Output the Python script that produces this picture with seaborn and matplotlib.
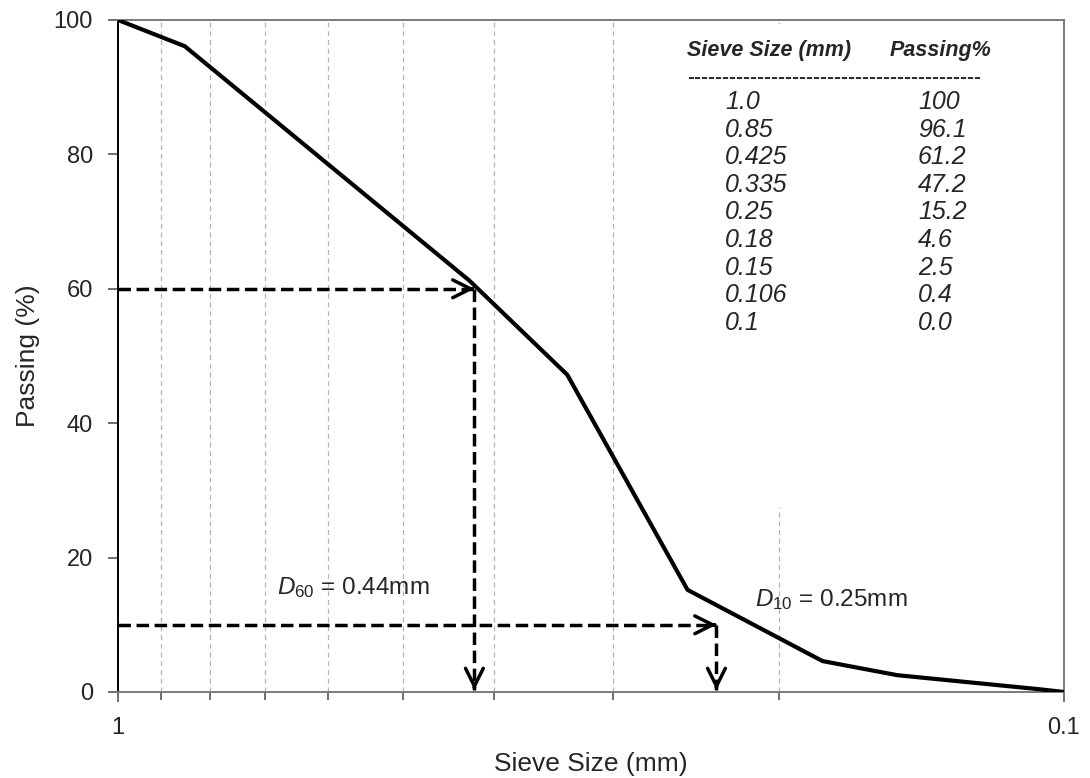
import numpy as np
import pandas as pd
import seaborn as sns
import matplotlib.pyplot as plt
from matplotlib.patches import Rectangle

# sieve analysis data
sieve_mm = [1.0, 0.85, 0.425, 0.335, 0.25, 0.18, 0.15, 0.106, 0.1]
passing = [100, 96.1, 61.2, 47.2, 15.2, 4.6, 2.5, 0.4, 0.0]
sieve_labels = ["1.0", "0.85", "0.425", "0.335", "0.25", "0.18", "0.15", "0.106", "0.1"]
passing_labels = ["100", "96.1", "61.2", "47.2", "15.2", "4.6", "2.5", "0.4", "0.0"]

# characteristic sizes
d60_x, d60_y = 0.42, 60
d10_x, d10_y = 0.233, 10
grid_ticks = [0.9, 0.8, 0.7, 0.6, 0.5, 0.4, 0.3, 0.2]
y_ticks = [0, 20, 40, 60, 80, 100]

sns.set_style("white")
plt.rcParams["font.family"] = ["Liberation Sans", "DejaVu Sans"]
plt.rcParams["mathtext.fontset"] = "custom"
plt.rcParams["mathtext.it"] = "Liberation Sans:italic"
plt.rcParams["mathtext.rm"] = "Liberation Sans"

df = pd.DataFrame({"sieve": sieve_mm, "passing": passing})

fig, ax = plt.subplots(figsize=(10.9, 7.78), dpi=100)
fig.subplots_adjust(left=118/1090, right=1064/1090, bottom=1-692/778, top=1-20/778)

sns.lineplot(data=df, x="sieve", y="passing", sort=False, color="black", lw=3, ax=ax, zorder=3)

ax.set_xscale("log")
ax.set_xlim(1, 0.1)
ax.set_ylim(0, 100)

ax.set_xticks([1, 0.1])
ax.set_xticklabels(["1", "0.1"])
ax.set_xticks(grid_ticks, minor=True)
ax.xaxis.set_minor_formatter(plt.NullFormatter())
ax.set_yticks(y_ticks)
ax.set_yticklabels([str(v) for v in y_ticks])

ax.tick_params(axis="x", which="major", direction="out", length=7, width=1.2, color="#555555",
               labelsize=17, pad=11, bottom=True)
ax.tick_params(axis="x", which="minor", direction="out", length=6, width=1.2, color="#555555", bottom=True)
ax.tick_params(axis="y", which="major", direction="out", length=7, width=1.2, color="#555555",
               labelsize=17, pad=11, left=True)

ax.set_axisbelow(True)
ax.grid(axis="x", which="minor", color="#b5b5b5", linestyle=(0, (4, 3)), lw=0.9)
ax.grid(axis="y", visible=False)
ax.grid(axis="x", which="major", visible=False)

for side in ["top", "right", "bottom"]:
    ax.spines[side].set_color("#7a7a7a")
    ax.spines[side].set_linewidth(1.4)
ax.spines["left"].set_color("black")
ax.spines["left"].set_linewidth(1.4)

ax.set_xlabel("Sieve Size (mm)", fontsize=19)
ax.set_ylabel("Passing (%)", fontsize=19)
ax.xaxis.set_label_coords(0.5, -0.09)
ax.yaxis.set_label_coords(-0.082, 0.5)

# D60 / D10 guide lines
dash = (0, (3.6, 1.6))
ax.plot([1, d60_x], [d60_y, d60_y], color="black", lw=2.5, linestyle=dash, zorder=2)
ax.plot([d60_x, d60_x], [d60_y, 0.3], color="black", lw=2.5, linestyle=dash, zorder=2)
ax.plot([1, d10_x], [d10_y, d10_y], color="black", lw=2.5, linestyle=dash, zorder=2)
ax.plot([d10_x, d10_x], [d10_y, 0.3], color="black", lw=2.5, linestyle=dash, zorder=2)

head = dict(arrowstyle="->", lw=2.5, mutation_scale=32, shrinkA=0, shrinkB=0, color="black")
ax.annotate("", xy=(d60_x, d60_y), xytext=(-2, 0), textcoords="offset points", arrowprops=head)
ax.annotate("", xy=(d60_x, 0.3), xytext=(0, 2), textcoords="offset points", arrowprops=head)
ax.annotate("", xy=(d10_x, d10_y), xytext=(-2, 0), textcoords="offset points", arrowprops=head)
ax.annotate("", xy=(d10_x, 0.3), xytext=(0, 2), textcoords="offset points", arrowprops=head)

ax.text(0.679, 15.6, r"$\mathit{D}_{\mathit{60}}$ = 0.44mm", fontsize=17.5, ha="left", va="center")
ax.text(0.212, 13.7, r"$\mathit{D}_{\mathit{10}}$ = 0.25mm", fontsize=17.5, ha="left", va="center")

# data table with white background
ax.add_patch(Rectangle((0.58, 0.274), 0.418, 0.72, transform=ax.transAxes,
                       facecolor="white", edgecolor="none", zorder=1))
ax.text(0.6015, 0.955, "Sieve Size (mm)", transform=ax.transAxes, fontsize=15.5,
        fontweight="bold", style="italic", ha="left", va="center", zorder=4)
ax.text(0.816, 0.955, "Passing%", transform=ax.transAxes, fontsize=15.5,
        fontweight="bold", style="italic", ha="left", va="center", zorder=4)
ax.text(0.6015, 0.915, "-" * 42, transform=ax.transAxes, fontsize=15,
        fontweight="bold", ha="left", va="center", zorder=4)
for i, (s, p) in enumerate(zip(sieve_labels, passing_labels)):
    yy = 0.878 - 0.04107 * i
    ax.text(0.6416, yy, s, transform=ax.transAxes, fontsize=18, style="italic",
            ha="left", va="center", zorder=4)
    ax.text(0.8457, yy, p, transform=ax.transAxes, fontsize=18, style="italic",
            ha="left", va="center", zorder=4)

fig.savefig("out.png", dpi=100)
